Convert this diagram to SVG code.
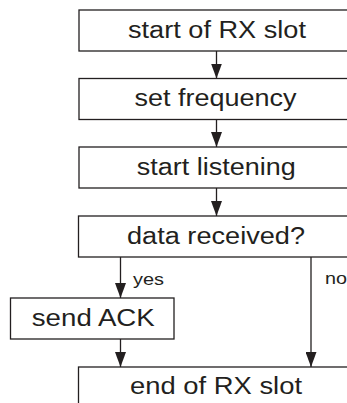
<svg xmlns="http://www.w3.org/2000/svg" width="347" height="403" viewBox="0 0 347 403">
<style>
.box{fill:#fff;stroke:#231f20;stroke-width:1.3}
.t{font-family:"Liberation Sans",Arial,sans-serif;font-size:23px;fill:#231f20;text-anchor:middle}
.s{font-family:"Liberation Sans",Arial,sans-serif;font-size:17px;fill:#231f20}
.ln{stroke:#231f20;stroke-width:1.3;fill:none}
</style>
<defs>
<marker id="ah" viewBox="0 0 15 11" refX="15" refY="5.5" markerWidth="15" markerHeight="11" markerUnits="userSpaceOnUse" orient="auto">
<path d="M0,0 L15,5.5 L0,11 Z" fill="#231f20"/>
</marker>
</defs>
<rect width="347" height="403" fill="#fff"/>
<g id="connectors">
<line class="ln" x1="216.5" y1="51" x2="216.5" y2="78.5" marker-end="url(#ah)"/>
<line class="ln" x1="216.5" y1="119.5" x2="216.5" y2="147" marker-end="url(#ah)"/>
<line class="ln" x1="216.5" y1="188" x2="216.5" y2="216" marker-end="url(#ah)"/>
<line class="ln" x1="120.5" y1="257" x2="120.5" y2="298" marker-end="url(#ah)"/>
<line class="ln" x1="311" y1="257" x2="311" y2="367" marker-end="url(#ah)"/>
<line class="ln" x1="120.5" y1="339" x2="120.5" y2="367" marker-end="url(#ah)"/>
<text class="s" x="133" y="284.5" textLength="31" lengthAdjust="spacingAndGlyphs">yes</text>
<text class="s" x="325" y="284" textLength="22" lengthAdjust="spacingAndGlyphs">no</text>
</g>
<g id="n1">
<rect class="box" x="79" y="10" width="290" height="41"/>
<text class="t" x="217" y="37.5" textLength="178" lengthAdjust="spacingAndGlyphs">start of RX slot</text>
</g>
<g id="n2">
<rect class="box" x="79" y="78.5" width="290" height="41"/>
<text class="t" x="215.5" y="106" textLength="162" lengthAdjust="spacingAndGlyphs">set frequency</text>
</g>
<g id="n3">
<rect class="box" x="79" y="147" width="290" height="41"/>
<text class="t" x="216.3" y="174.5" textLength="159" lengthAdjust="spacingAndGlyphs">start listening</text>
</g>
<g id="n4">
<rect class="box" x="78.5" y="216" width="290" height="41"/>
<text class="t" x="216" y="243.5" textLength="178" lengthAdjust="spacingAndGlyphs">data received?</text>
</g>
<g id="n5">
<rect class="box" x="10.5" y="298" width="163.5" height="41"/>
<text class="t" x="93.3" y="325.5" textLength="123" lengthAdjust="spacingAndGlyphs">send ACK</text>
</g>
<g id="n6">
<rect class="box" x="78.5" y="367" width="290" height="60"/>
<text class="t" x="216" y="394" textLength="172" lengthAdjust="spacingAndGlyphs">end of RX slot</text>
</g>
</svg>
